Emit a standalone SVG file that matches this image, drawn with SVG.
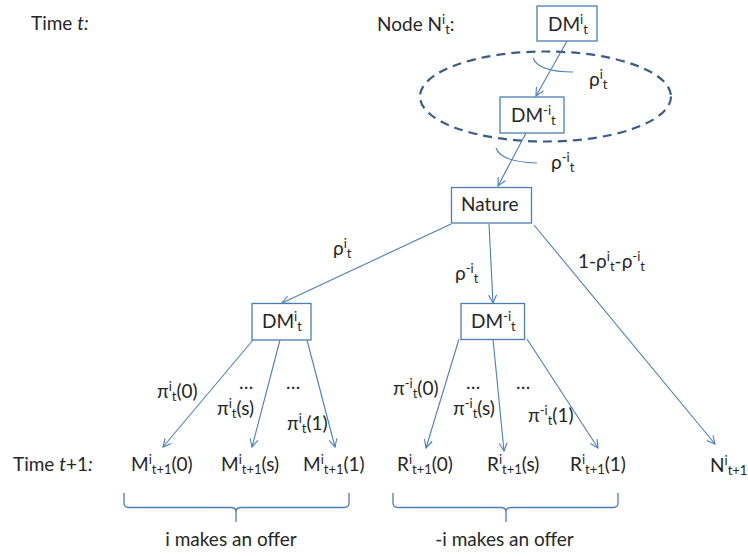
<svg xmlns="http://www.w3.org/2000/svg" width="748" height="556" viewBox="0 0 748 556">
<style>
text{font-family:Lato,"Liberation Sans",sans-serif;font-size:19px;fill:#262626}
.s{font-size:13px}
.box{fill:#fff;stroke:#4a7ebb;stroke-width:1.3}
.ln{fill:none;stroke:#4a7ebb;stroke-width:1.1}
.ar{fill:none;stroke:#4a7ebb;stroke-width:1.1;marker-end:url(#ah)}
.br{fill:none;stroke:#4a7ebb;stroke-width:1.3}
</style>
<defs>
<marker id="ah" markerWidth="12" markerHeight="12" refX="10" refY="6" orient="auto" markerUnits="userSpaceOnUse">
<path d="M2,2 L10,6 L2,10" fill="none" stroke="#4a7ebb" stroke-width="1.1"/>
</marker>
</defs>
<rect width="748" height="556" fill="#fff"/>

<g id="labels-time">
<text x="31" y="30">Time <tspan font-style="italic">t:</tspan></text>
<text x="13" y="471">Time <tspan font-style="italic">t</tspan>+1<tspan font-style="italic">:</tspan></text>
<text x="377" y="31">Node N<tspan class="s" dy="-7">i</tspan><tspan class="s" dy="10">t</tspan><tspan dy="-3">:</tspan></text>
</g>

<g id="ellipse">
<ellipse cx="545.5" cy="96.5" rx="125.5" ry="45" fill="none" stroke="#385d8a" stroke-width="2.2" stroke-dasharray="9,6"/>
</g>

<g id="connectors">
<path class="ar" d="M567,41 L536,96"/>
<path class="ar" d="M526,133 L498,186"/>
<path class="ar" d="M451,224 L282,303"/>
<path class="ar" d="M489,224 L493,303"/>
<path class="ar" d="M534,225 L715,444"/>
<path class="ar" d="M253,340 L163,447"/>
<path class="ar" d="M280,340 L252,447"/>
<path class="ar" d="M307,340 L335,447"/>
<path class="ar" d="M459,339 L426,448"/>
<path class="ar" d="M493,339 L504,451"/>
<path class="ar" d="M527,339 L598,448"/>
<path class="ln" d="M533,58 Q539,72 573,72"/>
<path class="ln" d="M496,148 Q501,162 537,163"/>
</g>

<g id="node-dmi-top">
<rect class="box" x="537" y="6" width="60" height="35"/>
<text x="548" y="31">DM<tspan class="s" dy="-7">i</tspan><tspan class="s" dy="10">t</tspan></text>
</g>
<g id="node-dm-i-top">
<rect class="box" x="500" y="97" width="64" height="36"/>
<text x="511" y="122">DM<tspan class="s" dy="-7">-i</tspan><tspan class="s" dy="10">t</tspan></text>
</g>
<g id="node-nature">
<rect class="box" x="451.5" y="187.5" width="80" height="35.5"/>
<text x="461" y="211">Nature</text>
</g>
<g id="node-dmi">
<rect class="box" x="252" y="303.5" width="59" height="36.5"/>
<text x="262" y="328">DM<tspan class="s" dy="-7">i</tspan><tspan class="s" dy="10">t</tspan></text>
</g>
<g id="node-dm-i">
<rect class="box" x="461" y="303.5" width="63.5" height="36"/>
<text x="471" y="328">DM<tspan class="s" dy="-7">-i</tspan><tspan class="s" dy="10">t</tspan></text>
</g>

<g id="edge-labels">
<text x="589" y="86">ρ<tspan class="s" dy="-7">i</tspan><tspan class="s" dy="10">t</tspan></text>
<text x="551" y="169">ρ<tspan class="s" dy="-7">-i</tspan><tspan class="s" dy="10">t</tspan></text>
<text x="333" y="255">ρ<tspan class="s" dy="-7">i</tspan><tspan class="s" dy="10">t</tspan></text>
<text x="455" y="280">ρ<tspan class="s" dy="-7">-i</tspan><tspan class="s" dy="10">t</tspan></text>
<text x="578" y="268">1-ρ<tspan class="s" dy="-7">i</tspan><tspan class="s" dy="10">t</tspan><tspan dy="-3">-ρ</tspan><tspan class="s" dy="-7">-i</tspan><tspan class="s" dy="10">t</tspan></text>
<text x="157" y="398">π<tspan class="s" dy="-7">i</tspan><tspan class="s" dy="10">t</tspan><tspan dy="-3">(0)</tspan></text>
<text x="239" y="389">…</text>
<text x="217" y="415">π<tspan class="s" dy="-7">i</tspan><tspan class="s" dy="10">t</tspan><tspan dy="-3">(s)</tspan></text>
<text x="286" y="389">…</text>
<text x="287" y="430">π<tspan class="s" dy="-7">i</tspan><tspan class="s" dy="10">t</tspan><tspan dy="-3">(1)</tspan></text>
<text x="393" y="395">π<tspan class="s" dy="-7">-i</tspan><tspan class="s" dy="10">t</tspan><tspan dy="-3">(0)</tspan></text>
<text x="466" y="389">…</text>
<text x="453" y="415">π<tspan class="s" dy="-7">-i</tspan><tspan class="s" dy="10">t</tspan><tspan dy="-3">(s)</tspan></text>
<text x="516" y="389">…</text>
<text x="528" y="422">π<tspan class="s" dy="-7">-i</tspan><tspan class="s" dy="10">t</tspan><tspan dy="-3">(1)</tspan></text>
</g>

<g id="leaf-m0"><text x="131" y="471">M<tspan class="s" dy="-7">i</tspan><tspan class="s" dy="10">t+1</tspan><tspan dy="-3">(0)</tspan></text></g>
<g id="leaf-ms"><text x="221" y="471">M<tspan class="s" dy="-7">i</tspan><tspan class="s" dy="10">t+1</tspan><tspan dy="-3">(s)</tspan></text></g>
<g id="leaf-m1"><text x="303" y="471">M<tspan class="s" dy="-7">i</tspan><tspan class="s" dy="10">t+1</tspan><tspan dy="-3">(1)</tspan></text></g>
<g id="leaf-r0"><text x="397" y="471">R<tspan class="s" dy="-7">i</tspan><tspan class="s" dy="10">t+1</tspan><tspan dy="-3">(0)</tspan></text></g>
<g id="leaf-rs"><text x="487" y="471">R<tspan class="s" dy="-7">i</tspan><tspan class="s" dy="10">t+1</tspan><tspan dy="-3">(s)</tspan></text></g>
<g id="leaf-r1"><text x="570" y="471">R<tspan class="s" dy="-7">i</tspan><tspan class="s" dy="10">t+1</tspan><tspan dy="-3">(1)</tspan></text></g>
<g id="leaf-n"><text x="710" y="472">N<tspan class="s" dy="-7">i</tspan><tspan class="s" dy="10">t+1</tspan></text></g>

<g id="brace-i">
<path class="br" d="M124,493 L124,503 Q124,507.5 129,507.5 L231,507.5 Q236,507.5 236,512 L236,522 M236,512 Q236,507.5 241,507.5 L344,507.5 Q349,507.5 349,503 L349,493"/>
<text x="231" y="546" text-anchor="middle">i makes an offer</text>
</g>
<g id="brace-minus-i">
<path class="br" d="M393,493 L393,503 Q393,507.5 398,507.5 L501,507.5 Q506,507.5 506,512 L506,522 M506,512 Q506,507.5 511,507.5 L613,507.5 Q618,507.5 618,503 L618,493"/>
<text x="504.5" y="546" text-anchor="middle">-i makes an offer</text>
</g>
</svg>
